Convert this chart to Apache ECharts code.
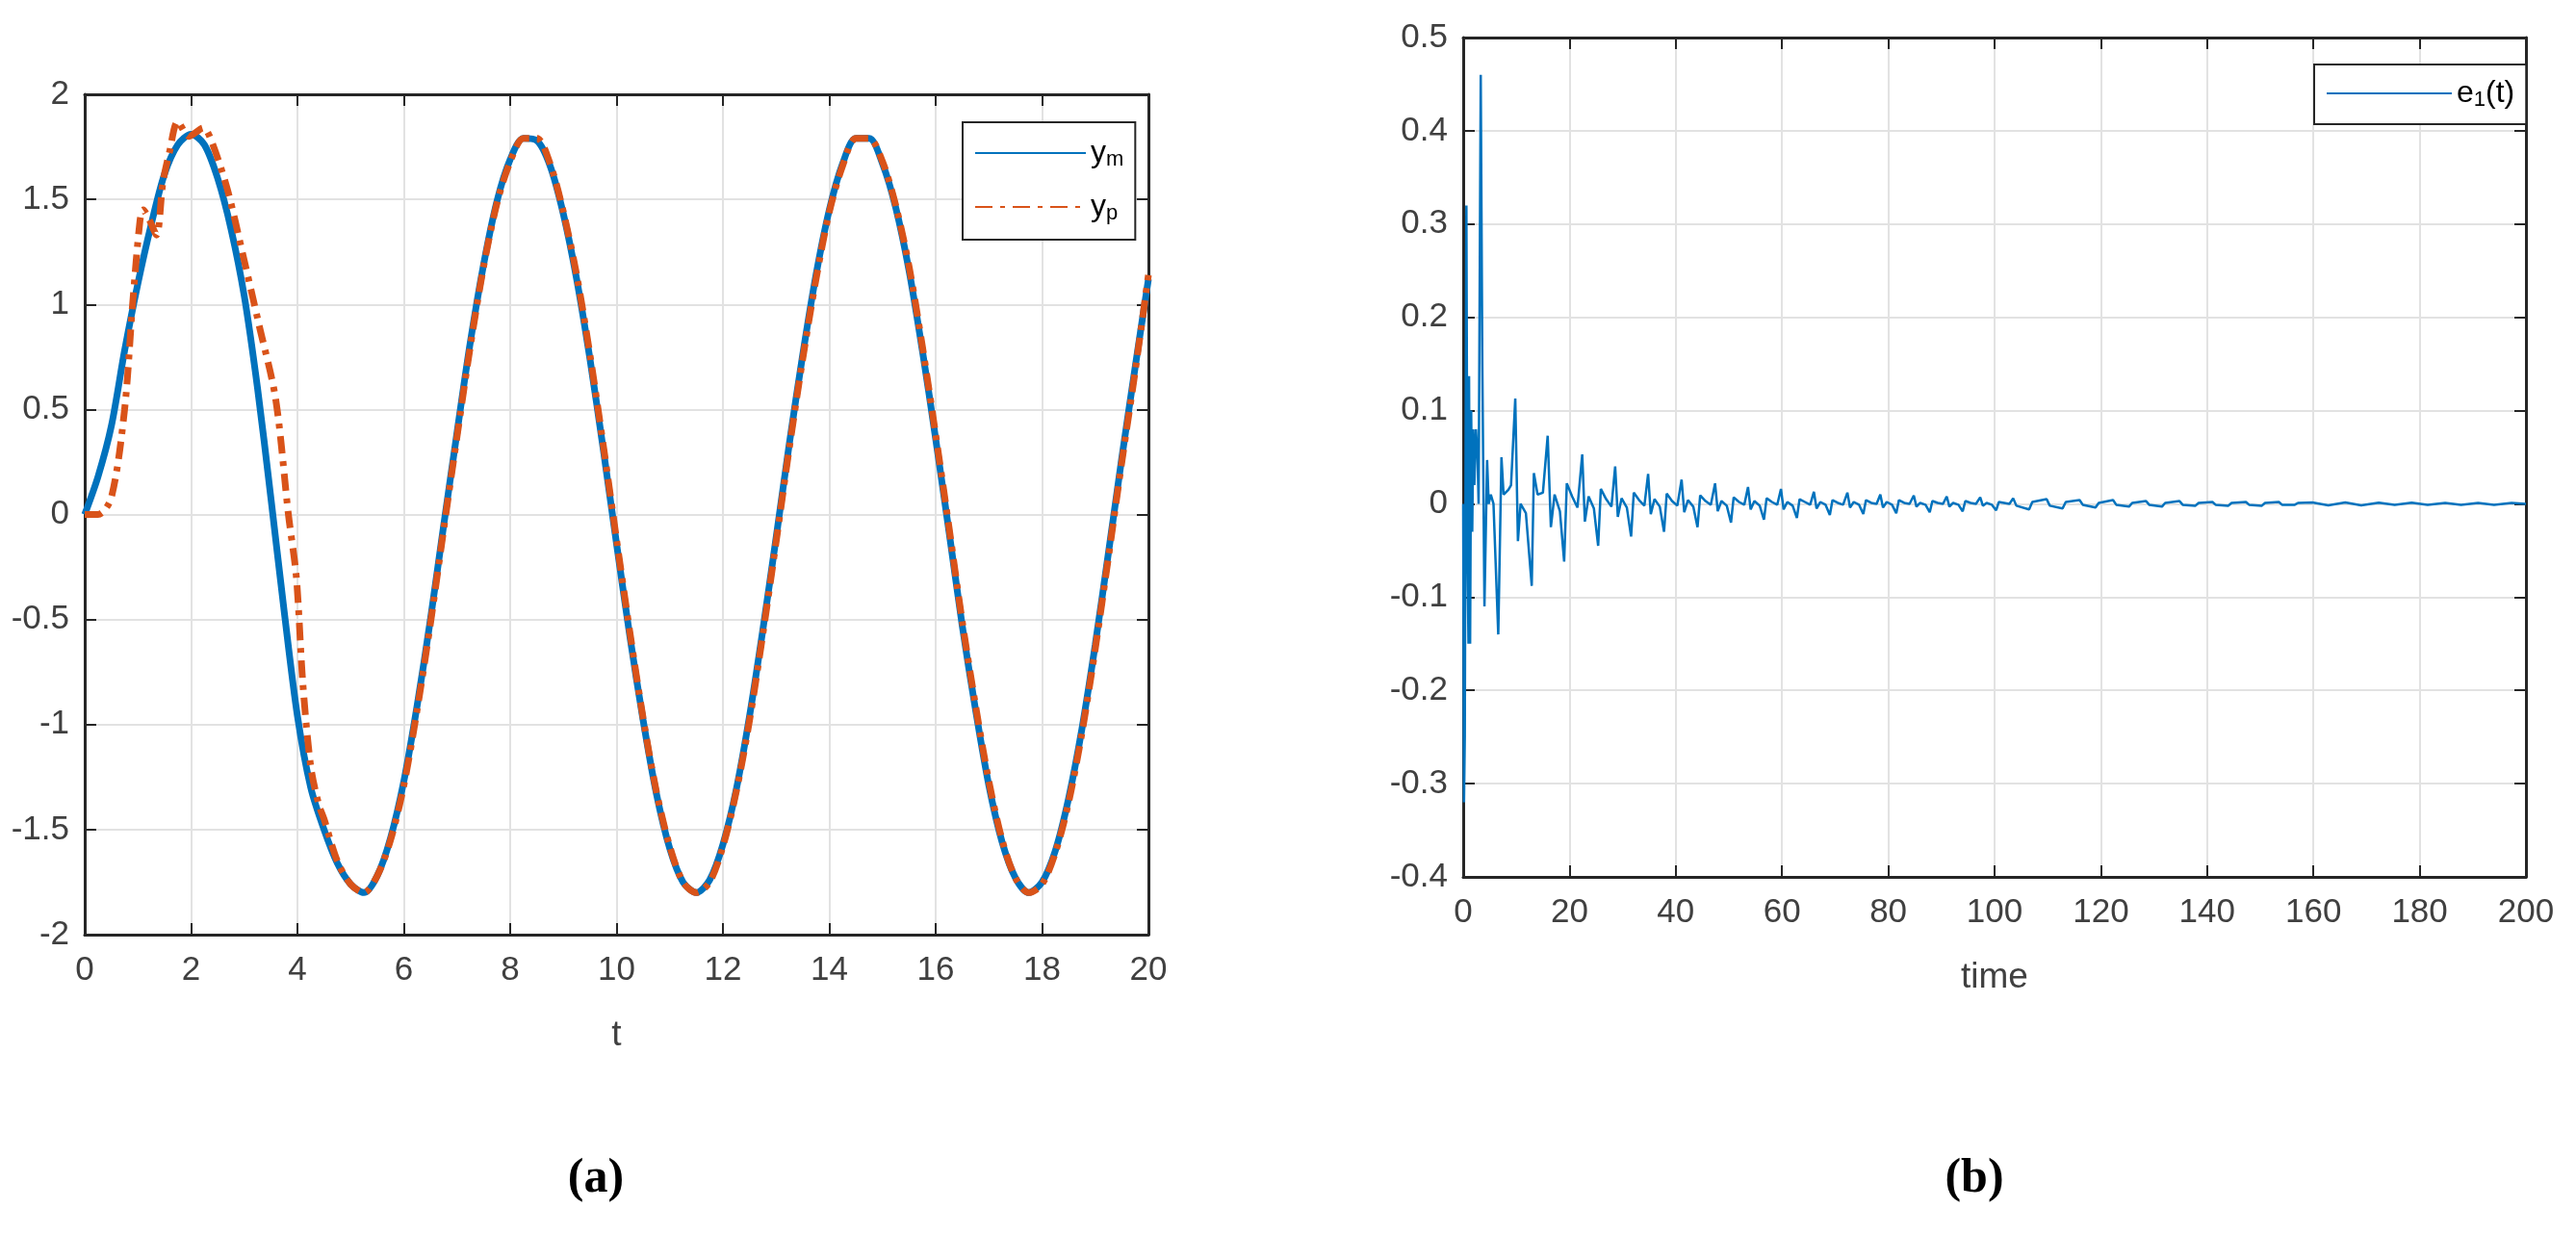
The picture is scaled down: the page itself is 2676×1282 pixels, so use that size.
<!DOCTYPE html>
<html>
<head>
<meta charset="utf-8">
<script src="https://cdn.jsdelivr.net/npm/echarts@6/dist/echarts.min.js"></script>
<style>
html, body { margin: 0; padding: 0; background: #fff; }
#main { width: 2676px; height: 1282px; }
</style>
</head>
<body>
<div id="main"></div>
<script>
var chart = echarts.init(document.getElementById("main"));

// (a) reference output y_m, sampled every 0.25 s from t = 0 to 20
var ymValues = [0, 0.18, 0.42, 0.78, 1.1, 1.38, 1.62, 1.76, 1.81, 1.76, 1.6, 1.36, 1.04, 0.6, 0.08, -0.46, -0.96, -1.3, -1.5, -1.66, -1.76, -1.8,
	-1.72, -1.54, -1.27, -0.91, -0.5, -0.05, 0.39, 0.82, 1.19, 1.49,
	1.69, 1.79, 1.78, 1.66, 1.43, 1.12, 0.74, 0.31, -0.14, -0.58,
	-0.98, -1.33, -1.59, -1.75, -1.8, -1.74, -1.57, -1.31, -0.96, -0.55,
	-0.11, 0.34, 0.76, 1.14, 1.45, 1.67, 1.79, 1.79, 1.67, 1.46,
	1.16, 0.78, 0.36, -0.08, -0.53, -0.93, -1.29, -1.56, -1.73, -1.8,
	-1.75, -1.6, -1.35, -1.02, -0.62, -0.18, 0.27, 0.7, 1.12];

// (a) plant output y_p, transient part as [t, y]
var ypEarly = [[0, 0], [0.25, 0], [0.5, 0.08], [0.75, 0.5], [0.9, 1.0], [1.04, 1.4], [1.1, 1.45], [1.22, 1.4], [1.35, 1.33],
	[1.47, 1.58], [1.59, 1.72], [1.75, 1.87], [1.96, 1.8], [2.23, 1.84], [2.38, 1.78], [2.68, 1.55], [2.98, 1.23],
	[3.28, 0.9], [3.59, 0.55], [3.83, 0], [3.98, -0.3], [4.1, -0.8], [4.25, -1.2], [4.4, -1.38], [4.5, -1.45],
	[4.75, -1.65], [5.0, -1.76], [5.25, -1.8]];
// after t = 5.5 y_p sits on y_m
var ypLate = [-1.72, -1.55, -1.29, -0.93, -0.52, -0.07, 0.37, 0.8, 1.18, 1.48,
	1.68, 1.79, 1.79, 1.67, 1.44, 1.14, 0.76, 0.33, -0.12, -0.56,
	-0.97, -1.32, -1.58, -1.75, -1.8, -1.75, -1.58, -1.32, -0.98, -0.57,
	-0.13, 0.32, 0.74, 1.12, 1.44, 1.66, 1.79, 1.79, 1.68, 1.47,
	1.18, 0.8, 0.38, -0.06, -0.51, -0.91, -1.27, -1.55, -1.73, -1.8,
	-1.76, -1.61, -1.37, -1.04, -0.64, -0.2, 0.25, 0.68, 1.14];

// (b) tracking error e1(t) as [time, value]
var e1Data = [[0, 0], [0.15, -0.32], [0.3, -0.25], [0.6, 0.32], [0.8, -0.05], [1.0, -0.15], [1.1, 0.137], [1.3, -0.15], [1.5, 0.1],
	[1.7, -0.03], [1.9, 0.08], [2.1, 0.02], [2.4, 0.08], [2.7, 0.05], [2.9, 0.0], [3.3, 0.46], [3.6, 0.15], [4.0, -0.11],
	[4.5, 0.047], [4.8, 0.0], [5.2, 0.01], [5.7, 0.0], [6.6, -0.14], [7.2, 0.05], [7.6, 0.01], [8.5, 0.015], [9.0, 0.02],
	[9.8, 0.113], [10.3, -0.04], [10.8, 0.0], [11.8, -0.01], [12.9, -0.088], [13.3, 0.033], [14, 0.01], [15, 0.012],
	[15.9, 0.073], [16.5, -0.025], [17.2, 0.01], [18.2, -0.008], [19.0, -0.062], [19.5, 0.022], [20.5, 0.008], [21.5, -0.004],
	[22.4, 0.053], [22.9, -0.019], [23.6, 0.008], [24.6, -0.005], [25.4, -0.045], [25.9, 0.016], [26.9, 0.005], [27.9, -0.003],
	[28.6, 0.04], [29.1, -0.014], [29.8, 0.006], [30.8, -0.004], [31.6, -0.035], [32.1, 0.012], [33.1, 0.004], [34.1, -0.002],
	[34.8, 0.032], [35.3, -0.011], [36, 0.005], [37, -0.003], [37.8, -0.03], [38.3, 0.011], [39.3, 0.003], [40.3, -0.002],
	[41.1, 0.026], [41.6, -0.009], [42.3, 0.004], [43.3, -0.003], [44.1, -0.025], [44.6, 0.009], [45.6, 0.003], [46.6, -0.001],
	[47.4, 0.022], [47.9, -0.008], [48.6, 0.003], [49.6, -0.002], [50.4, -0.02], [50.9, 0.007], [51.9, 0.002], [52.9, -0.001],
	[53.6, 0.018], [54.1, -0.006], [54.8, 0.003], [55.8, -0.002], [56.6, -0.017], [57.1, 0.006], [58.1, 0.002], [59.1, -0.001],
	[59.8, 0.016], [60.3, -0.006], [61, 0.002], [62, -0.002], [62.8, -0.015], [63.3, 0.005], [64.3, 0.002], [65.3, -0.001],
	[66, 0.013], [66.5, -0.005], [67.2, 0.002], [68.2, -0.001], [69, -0.012], [69.5, 0.004], [70.5, 0.001], [71.5, -0.001],
	[72.3, 0.012], [72.8, -0.004], [73.5, 0.002], [74.5, -0.001], [75.3, -0.011], [75.8, 0.004], [76.8, 0.001], [77.8, 0],
	[78.5, 0.01], [79, -0.004], [79.7, 0.002], [80.7, -0.001], [81.5, -0.01], [82, 0.004], [83, 0.001], [84, 0],
	[84.8, 0.009], [85.3, -0.003], [86, 0.001], [87, -0.001], [87.8, -0.009], [88.3, 0.003], [89.3, 0.001], [90.3, 0],
	[91, 0.008], [91.5, -0.003], [92.2, 0.001], [93.2, -0.001], [94, -0.008], [94.5, 0.003], [95.5, 0.001], [96.5, 0],
	[97.3, 0.007], [97.8, -0.002], [98.5, 0.001], [99.5, -0.001], [100.3, -0.007], [100.8, 0.002], [101.8, 0.001], [102.8, 0],
	[103.5, 0.006], [104.1, -0.002], [106.5, -0.006], [107.1, 0.002], [109.8, 0.005], [110.4, -0.002], [112.8, -0.005], [113.4, 0.002],
	[116, 0.004], [116.6, -0.001], [119, -0.004], [119.6, 0.001], [122.3, 0.004], [122.9, -0.001], [125.3, -0.003], [125.9, 0.001],
	[128.5, 0.003], [129.1, -0.001], [131.5, -0.003], [132.1, 0.001], [134.8, 0.003], [135.4, -0.001], [137.8, -0.002], [138.4, 0.001],
	[141, 0.002], [141.6, -0.001], [144, -0.002], [144.6, 0.001], [147.3, 0.002], [147.9, -0.001], [150.3, -0.002], [150.9, 0.001],
	[153.5, 0.002], [154.1, -0.001], [156.5, -0.001], [157.1, 0.001], [159.8, 0.0015], [162.8, -0.0015], [166, 0.0015], [169, -0.0015],
	[172.3, 0.0012], [175.3, -0.0012], [178.5, 0.0012], [181.5, -0.0012], [184.8, 0.001], [187.8, -0.001], [191, 0.001], [194, -0.001],
	[197.3, 0.001], [200, 0]];

var ymData = ymValues.map(function(v, i) { return [i * 0.25, v]; });
var ypData = ypEarly.concat(ypLate.map(function(v, i) { return [5.5 + i * 0.25, v]; }));

var FONT = "Liberation Sans";
var dark = "#262626";
var labelStyle = { color: "#404040", fontSize: 35, fontFamily: FONT };

function mainX(grid, min, max, interval, name) {
	return {
		type: "value", gridIndex: grid, min: min, max: max, interval: interval,
		name: name, nameLocation: "middle", nameGap: 86,
		nameTextStyle: { color: "#404040", fontSize: 37, fontFamily: FONT },
		axisLine: { onZero: false, lineStyle: { color: dark, width: 3 } },
		axisTick: { inside: true, length: 12, lineStyle: { color: dark, width: 2 } },
		axisLabel: Object.assign({ margin: 20 }, labelStyle),
		splitLine: { show: true, lineStyle: { color: "#e2e2e2", width: 2 } }
	};
}
function mainY(grid, min, max, interval) {
	return {
		type: "value", gridIndex: grid, min: min, max: max, interval: interval,
		axisLine: { show: true, lineStyle: { color: dark, width: 3 } },
		axisTick: { show: true, inside: true, length: 12, lineStyle: { color: dark, width: 2 } },
		axisLabel: Object.assign({ margin: 16 }, labelStyle),
		splitLine: { show: true, lineStyle: { color: "#e2e2e2", width: 2 } }
	};
}
function mirror(axis, pos) {
	return {
		type: "value", gridIndex: axis.gridIndex, min: axis.min, max: axis.max, interval: axis.interval,
		position: pos,
		axisLine: { show: true, onZero: false, lineStyle: { color: dark, width: 3 } },
		axisTick: { show: true, inside: true, length: 12, lineStyle: { color: dark, width: 2 } },
		axisLabel: { show: false }, splitLine: { show: false }
	};
}

var xa = mainX(0, 0, 20, 2, "t");
var xb = mainX(1, 0, 200, 20, "time");
var ya = mainY(0, -2, 2, 0.5);
var yb = mainY(1, -0.4, 0.5, 0.1);

var subRich = {
	n: { fontSize: 32, fontFamily: FONT, color: "#000" },
	s: { fontSize: 22, fontFamily: FONT, color: "#000", verticalAlign: "bottom", padding: [14, 0, 0, 0] }
};

var option = {
	animation: false,
	backgroundColor: "#fff",
	title: [
		{ text: "(a)", left: 614, top: 1195, textAlign: "center",
			textStyle: { fontFamily: "Liberation Serif", fontWeight: "bold", fontSize: 50, color: "#000" } },
		{ text: "(b)", left: 2046, top: 1195, textAlign: "center",
			textStyle: { fontFamily: "Liberation Serif", fontWeight: "bold", fontSize: 50, color: "#000" } }
	],
	grid: [
		{ left: 88, top: 98, width: 1105, height: 873, containLabel: false },
		{ left: 1520, top: 39, width: 1104, height: 872, containLabel: false }
	],
	xAxis: [xa, xb, mirror(xa, "top"), mirror(xb, "top")],
	yAxis: [ya, yb, mirror(ya, "right"), mirror(yb, "right")],
	legend: [
		{
			data: ["ym", "yp"], left: 1000, top: 127, orient: "vertical", itemGap: 22,
			itemWidth: 115, itemHeight: 8, padding: [16, 12, 16, 12],
			backgroundColor: "#fff", borderColor: dark, borderWidth: 2, borderRadius: 0,
			itemStyle: { opacity: 0 },
			formatter: function(n) { return "{n|y}{s|" + n.charAt(1) + "}"; },
			textStyle: { rich: subRich }
		},
		{
			data: ["e1"], left: 2404, top: 67, itemWidth: 130, itemHeight: 6, padding: [14, 12, 14, 12],
			backgroundColor: "#fff", borderColor: dark, borderWidth: 2, borderRadius: 0,
			itemStyle: { opacity: 0 },
			formatter: function() { return "{n|e}{s|1}{n|(t)}"; },
			textStyle: { rich: subRich }
		}
	],
	series: [
		{ name: "ym", type: "line", xAxisIndex: 0, yAxisIndex: 0, data: ymData, smooth: 0.3, symbol: "none",
			lineStyle: { color: "#0072BD", width: 7 }, itemStyle: { color: "#0072BD" } },
		{ name: "yp", type: "line", xAxisIndex: 0, yAxisIndex: 0, data: ypData, smooth: 0.3, symbol: "none",
			lineStyle: { color: "#D95319", width: 7, type: [18, 8, 5, 8] }, itemStyle: { color: "#D95319" } },
		{ name: "e1", type: "line", xAxisIndex: 1, yAxisIndex: 1, data: e1Data, symbol: "none",
			lineStyle: { color: "#0072BD", width: 2.5 }, itemStyle: { color: "#0072BD" } }
	]
};

chart.setOption(option);
</script>
</body>
</html>
